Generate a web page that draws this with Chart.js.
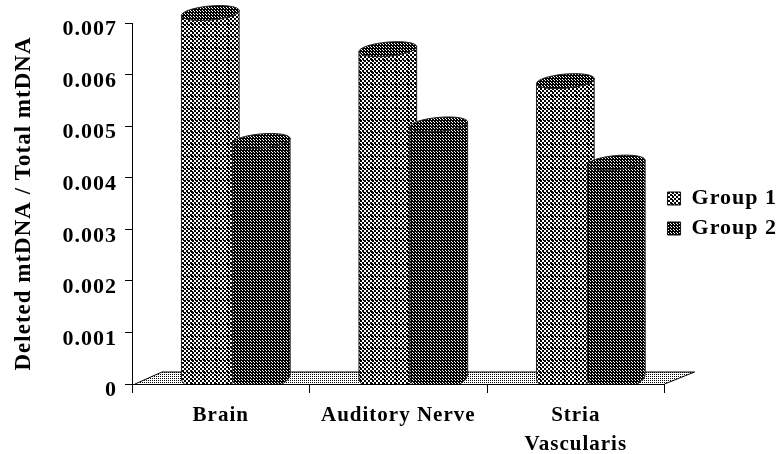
<!DOCTYPE html>
<html>
<head>
<meta charset="utf-8">
<style>
  html, body { margin: 0; padding: 0; background: #fff; }
  #wrap { width: 779px; height: 454px; }
</style>
<script src="https://cdn.jsdelivr.net/npm/chart.js@4/dist/chart.umd.min.js"></script>
</head>
<body>
<div id="wrap"><canvas id="deletionChart" width="779" height="454"></canvas></div>
<script>
const categories = ['Brain', 'Auditory Nerve', ['Stria', 'Vascularis']];
const group1 = [0.0070, 0.0063, 0.00568];
const group2 = [0.00452, 0.00484, 0.0041];
const yTicks = ['0', '0.001', '0.002', '0.003', '0.004', '0.005', '0.006', '0.007'];

const SERIF = '"Liberation Serif", "Times New Roman", serif';

// dithered fills like the scanned original
function makeTile(size, isDark) {
    const c = document.createElement('canvas');
    c.width = c.height = size;
    const g = c.getContext('2d');
    g.fillStyle = '#fff';
    g.fillRect(0, 0, size, size);
    g.fillStyle = '#000';
    for (let y = 0; y < size; y++) {
        for (let x = 0; x < size; x++) {
            if (isDark(x, y)) g.fillRect(x, y, 1, 1);
        }
    }
    return c;
}

const ctxMain = document.getElementById('deletionChart').getContext('2d');
const fill1 = ctxMain.createPattern(makeTile(12, (x, y) => {
    if (x === 0 || y === 0) return (x + y) % 4 !== 2;
    return ((x % 4 < 2) === (y % 4 < 2)) || (x + y) % 4 === 1;
}), 'repeat');
const fill2 = ctxMain.createPattern(makeTile(12, (x, y) => {
    if (x === 0 || y === 0) return true;
    return !(x % 3 === 1 && y % 3 === 1) && !(x % 3 === 2 && y % 3 === 2);
}), 'repeat');
const capFill = ctxMain.createPattern(makeTile(3, (x, y) => !(x === 1 && y === 1) && !(x === 2 && y === 2)), 'repeat');
const floorFill = ctxMain.createPattern(makeTile(2, (x, y) => x === 0 && y === 0), 'repeat');

// 3D look: floor plane and cylinders, sized from the bar elements
const DEPTH_X = 30, DEPTH_Y = 12, SHIFT_X = 15, SHIFT_Y = -10, TILT = -0.09, CAP_RY = 7;

const cylinders = {
    id: 'cylinders',
    afterLayout(chart) {
        chart.legend.left -= 5;
        chart.legend.right -= 5;
        chart.legend.top -= 25;
        chart.legend.bottom -= 25;
    },
    beforeDraw(chart) {
        chart.ctx.letterSpacing = '1px';
    },
    beforeDatasetsDraw(chart) {
        const { ctx, scales: { x, y } } = chart;
        const y0 = y.getPixelForValue(0);
        ctx.save();
        ctx.beginPath();
        ctx.moveTo(x.left + 3, y0);
        ctx.lineTo(x.left + DEPTH_X, y0 - DEPTH_Y);
        ctx.lineTo(x.right + DEPTH_X, y0 - DEPTH_Y);
        ctx.lineTo(x.right, y0);
        ctx.closePath();
        ctx.fillStyle = floorFill;
        ctx.fill();
        ctx.strokeStyle = '#000';
        ctx.lineWidth = 1;
        ctx.beginPath();
        ctx.moveTo(x.left + 3, y0);
        ctx.lineTo(x.left + DEPTH_X, y0 - DEPTH_Y);
        ctx.lineTo(x.right + DEPTH_X, y0 - DEPTH_Y);
        ctx.lineTo(x.right, y0);
        ctx.stroke();
        ctx.restore();
    },
    beforeDatasetDraw() {
        return false; // drawn below so Group 2 sits in front
    },
    afterDatasetsDraw(chart) {
        const { ctx, scales: { y } } = chart;
        const y0 = y.getPixelForValue(0);
        chart.data.datasets.forEach((ds, i) => {
            chart.getDatasetMeta(i).data.forEach(bar => {
                const cx = bar.x + SHIFT_X, rx = bar.width / 2;
                const top = bar.y + SHIFT_Y, base = bar.base + SHIFT_Y;
                ctx.save();
                ctx.beginPath();
                ctx.rect(cx - rx - 2, 0, bar.width + 4, y0);
                ctx.clip();
                // body
                ctx.beginPath();
                ctx.ellipse(cx, top, rx, CAP_RY, TILT, Math.PI, 0, true);
                ctx.lineTo(cx + rx, base);
                ctx.ellipse(cx, base + 3, rx, CAP_RY + 6, TILT, 0, Math.PI);
                ctx.closePath();
                ctx.fillStyle = ds.backgroundColor;
                ctx.fill();
                ctx.strokeStyle = '#222';
                ctx.lineWidth = 1;
                ctx.stroke();
                // top cap
                ctx.beginPath();
                ctx.ellipse(cx, top, rx, CAP_RY, TILT, 0, Math.PI * 2);
                ctx.fillStyle = capFill;
                ctx.fill();
                ctx.stroke();
                ctx.restore();
            });
        });
    }
};

new Chart(ctxMain, {
    type: 'bar',
    plugins: [cylinders],
    data: {
        labels: categories,
        datasets: [
            { label: 'Group 1', data: group1, backgroundColor: fill1, borderColor: '#111', borderWidth: 1 },
            { label: 'Group 2', data: group2, backgroundColor: fill2, borderColor: '#111', borderWidth: 1 }
        ]
    },
    options: {
        responsive: false,
        animation: false,
        layout: { padding: { top: 23, right: -6, bottom: 0, left: 0 } },
        datasets: { bar: { categoryPercentage: 0.574, barPercentage: 1.137 } },
        plugins: {
            tooltip: { enabled: false },
            legend: {
                position: 'right',
                labels: {
                    color: '#000',
                    boxWidth: 13,
                    boxHeight: 13,
                    padding: 8,
                    font: { family: SERIF, size: 22, weight: 'bold' }
                },
                onClick: null
            }
        },
        scales: {
            x: {
                grid: { drawOnChartArea: false, color: '#000', tickLength: 9 },
                border: { color: '#000' },
                ticks: {
                    color: '#000',
                    maxRotation: 0,
                    autoSkip: false,
                    padding: 8,
                    font: { family: SERIF, size: 21, weight: 'bold', lineHeight: 1.38 }
                },
                afterFit(s) { s.height = 70; }
            },
            y: {
                min: 0,
                max: 0.007,
                grid: { drawOnChartArea: false, color: '#000', tickLength: 7 },
                border: { color: '#000' },
                ticks: {
                    stepSize: 0.001,
                    color: '#000',
                    padding: 8,
                    font: { family: SERIF, size: 22, weight: 'bold', lineHeight: 0.6 },
                    callback: (v, i) => ['', yTicks[i]]
                },
                title: {
                    display: true,
                    text: 'Deleted mtDNA / Total mtDNA',
                    color: '#000',
                    padding: { top: 10, bottom: 0 },
                    font: { family: SERIF, size: 23, weight: 'bold' }
                },
                afterFit(s) { s.width = 132; }
            }
        }
    }
});
</script>
</body>
</html>
